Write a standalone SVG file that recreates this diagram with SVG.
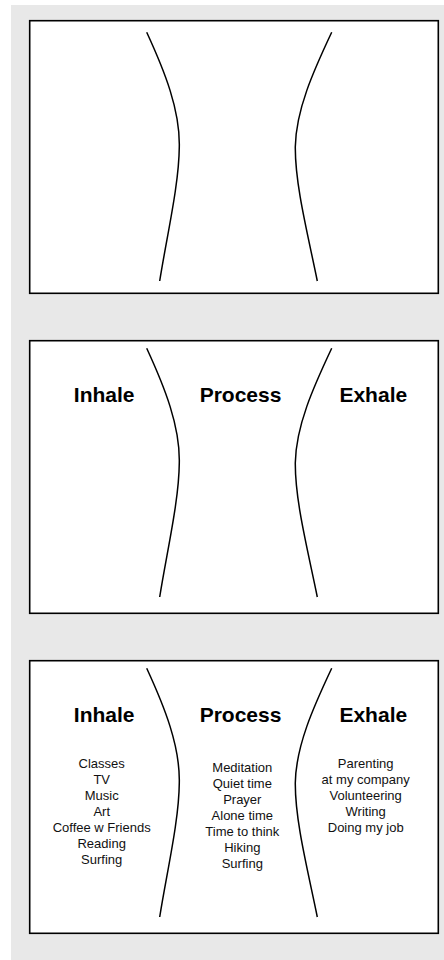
<svg xmlns="http://www.w3.org/2000/svg" width="444" height="960" viewBox="0 0 444 960">
<defs>
<style>
.bg{fill:#e8e8e8}
.panel{fill:#fff;stroke:#000;stroke-width:1.6}
.curve{fill:none;stroke:#000;stroke-width:1.5}
.title{font-family:"Liberation Sans",Arial,sans-serif;font-weight:bold;font-size:21px;fill:#000;text-anchor:middle}
.item{font-family:"Liberation Sans",Arial,sans-serif;font-size:13px;fill:#111;text-anchor:middle}
</style>
<path id="lc" d="M146.7,32.3 C165,72 180,110 179.3,146.7 C179,185 167,235 159.7,281"/>
<path id="rc" d="M331.7,32.3 C313,72 296,110 295.3,146.7 C295,185 308,235 317.3,281"/>
</defs>
<rect class="bg" x="11" y="5" width="433" height="955"/>

<g id="panel1">
<rect class="panel" x="29.7" y="20.7" width="408.6" height="272.6"/>
</g>
<g id="panel2">
<rect class="panel" x="29.7" y="340.7" width="408.6" height="272.6"/>
<text class="title" x="104.2" y="402.3">Inhale</text>
<text class="title" x="240.5" y="402.3">Process</text>
<text class="title" x="373.3" y="402.3">Exhale</text>
</g>
<g id="panel3">
<rect class="panel" x="29.7" y="660.7" width="408.6" height="272.6"/>
<text class="title" x="104.2" y="722.3">Inhale</text>
<text class="title" x="240.5" y="722.3">Process</text>
<text class="title" x="373.3" y="722.3">Exhale</text>
<g id="inhale-list">
<text class="item" x="101.7" y="768.3">Classes</text>
<text class="item" x="101.7" y="784.3">TV</text>
<text class="item" x="101.7" y="800.3">Music</text>
<text class="item" x="101.7" y="816.3">Art</text>
<text class="item" x="101.7" y="832.3">Coffee w Friends</text>
<text class="item" x="101.7" y="848.3">Reading</text>
<text class="item" x="101.7" y="864.3">Surfing</text>
</g>
<g id="process-list">
<text class="item" x="242.3" y="772.3">Meditation</text>
<text class="item" x="242.3" y="788.3">Quiet time</text>
<text class="item" x="242.3" y="804.3">Prayer</text>
<text class="item" x="242.3" y="820.3">Alone time</text>
<text class="item" x="242.3" y="836.3">Time to think</text>
<text class="item" x="242.3" y="852.3">Hiking</text>
<text class="item" x="242.3" y="868.3">Surfing</text>
</g>
<g id="exhale-list">
<text class="item" x="365.7" y="768.3">Parenting</text>
<text class="item" x="365.7" y="784.3">at my company</text>
<text class="item" x="365.7" y="800.3">Volunteering</text>
<text class="item" x="365.7" y="816.3">Writing</text>
<text class="item" x="365.7" y="832.3">Doing my job</text>
</g>
</g>
<g id="connectors">
<use href="#lc" class="curve"/>
<use href="#rc" class="curve"/>
<use href="#lc" class="curve" transform="translate(0,316)"/>
<use href="#rc" class="curve" transform="translate(0,316)"/>
<use href="#lc" class="curve" transform="translate(0,636)"/>
<use href="#rc" class="curve" transform="translate(0,636)"/>
</g>
</svg>
